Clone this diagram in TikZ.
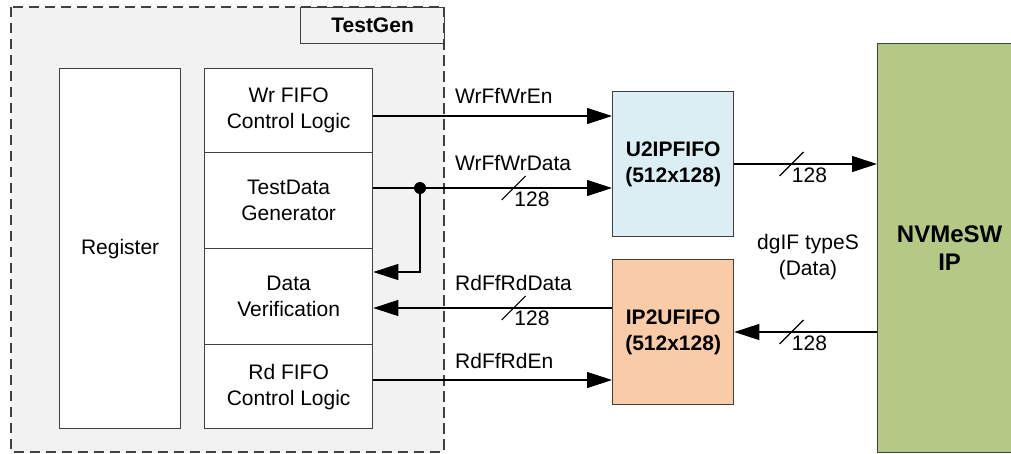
\documentclass[tikz,border=0pt]{standalone}
\usepackage{fontspec}
\setmainfont{Liberation Sans}
\usetikzlibrary{arrows.meta}
\definecolor{bggray}{HTML}{F2F2F2}
\definecolor{edge}{HTML}{404040}
\definecolor{u2ipc}{HTML}{DAEEF3}
\definecolor{ip2uc}{HTML}{F9CBA6}
\definecolor{nvmec}{HTML}{B5C986}
\tikzset{
  blk/.style={draw=edge, line width=1.3pt, fill=white, inner sep=0pt, anchor=north west, align=center, font=\fontsize{21}{26}\selectfont},
  lbl/.style={inner sep=0pt, font=\fontsize{21}{26}\selectfont},
  arr/.style={line width=1.1pt, -{Triangle[length=25pt,width=16pt]}},
  bus/.style={line width=1.1pt}
}
\begin{document}
\begin{tikzpicture}[x=1pt,y=-1pt]
\useasboundingbox (0,0) rectangle (1011,453);
\fill[white] (0,0) rectangle (1011,453);
% TestGen container
\draw[fill=bggray, draw=edge, line width=2pt, dash pattern=on 10pt off 6pt] (11,7) rectangle (444,452);
\node[blk, fill=bggray, line width=1.2pt, minimum width=144pt, minimum height=36pt, font=\fontsize{21}{26}\selectfont\bfseries] (tg) at (300,7) {TestGen};
\draw[edge, line width=2pt, dash pattern=on 10pt off 6pt] (444,7) -- (444,452);
% Register
\node[blk, minimum width=121pt, minimum height=360pt] (reg) at (59,68) {Register};
% right column
\node[blk, minimum width=168pt, minimum height=84pt] (wrctl) at (204,68) {Wr FIFO\\Control Logic};
\node[blk, minimum width=168pt, minimum height=96pt] (gen) at (204,152) {TestData\\Generator};
\node[blk, minimum width=168pt, minimum height=96pt] (ver) at (204,248) {Data\\Verification};
\node[blk, minimum width=168pt, minimum height=84pt] (rdctl) at (204,344) {Rd FIFO\\Control Logic};
% FIFOs
\node[blk, fill=u2ipc, minimum width=121pt, minimum height=145pt, font=\fontsize{21}{26}\selectfont\bfseries] (u2ip) at (612,91) {U2IPFIFO\\(512x128)};
\node[blk, fill=ip2uc, minimum width=121pt, minimum height=145pt, font=\fontsize{21}{26}\selectfont\bfseries] (ip2u) at (612,259) {IP2UFIFO\\(512x128)};
% NVMe
\node[blk, fill=nvmec, minimum width=144pt, minimum height=409pt, font=\fontsize{24}{28}\selectfont\bfseries] (nvme) at (877,43) {NVMeSW\\IP};
% connectors
\draw[arr] (wrctl.east |- 0,116) -- (u2ip.west |- 0,116);
\draw[arr] (gen.east |- 0,188) -- (u2ip.west |- 0,188);
\coordinate (dot) at (420,188);
\coordinate (loop) at (420,272);
\fill (dot) circle (6pt);
\draw[arr] (dot) -- (loop) -- (ver.east |- loop);
\draw[arr] (ip2u.west |- 0,308) -- (ver.east |- 0,308);
\draw[arr] (rdctl.east |- 0,380) -- (ip2u.west |- 0,380);
\draw[arr] (u2ip.east |- 0,164) -- (nvme.west |- 0,164);
\draw[arr] (nvme.west |- 0,332) -- (ip2u.east |- 0,332);
% bus slashes
\foreach \p in {(513.7,188),(513.7,308),(791.5,164),(791.5,332)}
  \draw[bus] \p +(-12,12) -- +(12,-12);
% labels
\node[lbl, anchor=base west] (l1) at (455,103) {WrFfWrEn};
\node[lbl, anchor=base west] (l2) at (455,170) {WrFfWrData};
\node[lbl, anchor=base west] (l3) at (455,290) {RdFfRdData};
\node[lbl, anchor=base west] (l4) at (455,368) {RdFfRdEn};
\node[lbl] (w1) at (532,199) {128};
\node[lbl] (w2) at (532,318) {128};
\node[lbl] (w3) at (809.5,175) {128};
\node[lbl] (w4) at (809.5,343) {128};
\node[lbl, align=center, font=\fontsize{21}{26}\selectfont] (dg) at (808,257) {dgIF typeS\\(Data)};
\end{tikzpicture}
\end{document}
